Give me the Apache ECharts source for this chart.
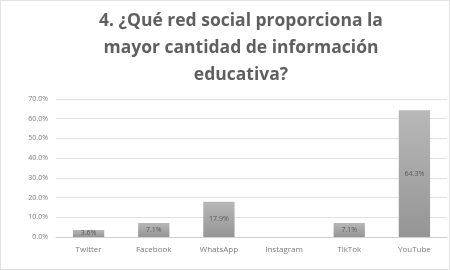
<!DOCTYPE html>
<html>
<head>
<meta charset="utf-8">
<script src="https://cdn.jsdelivr.net/npm/echarts@6/dist/echarts.min.js"></script>
<style>
  html, body { margin: 0; padding: 0; background: #fff; }
  #chart { width: 450px; height: 270px; box-sizing: border-box; border: 1px solid #e3e3e3; }
</style>
</head>
<body>
<div id="chart"></div>
<script>
const categories = ['Twitter', 'Facebook', 'WhatsApp', 'Instagram', 'TikTok', 'YouTube']
const percentages = [3.6, 7.1, 17.9, 0, 7.1, 64.3]
const yTicks = [0, 10, 20, 30, 40, 50, 60, 70]

const chart = echarts.init(document.getElementById('chart'))

chart.setOption({
  animation: false,
  title: {
    text: '4. ¿Qué red social proporciona la\nmayor cantidad de información\neducativa?',
    left: 235,
    top: 2,
    textAlign: 'center',
    textStyle: {
      fontFamily: 'Open Sans',
      fontSize: 17.5,
      fontWeight: 'bold',
      color: '#5f5f5f',
      lineHeight: 27,
    },
  },
  grid: {
    left: 55,
    right: 2,
    top: 98,
    bottom: 32,
  },
  xAxis: {
    type: 'category',
    data: categories,
    axisTick: { show: false },
    axisLine: { lineStyle: { color: '#d0d0d0' } },
    axisLabel: { color: '#7a7a7a', fontSize: 8, fontFamily: 'Open Sans', margin: 9 },
  },
  yAxis: {
    type: 'value',
    min: yTicks[0],
    max: yTicks[yTicks.length - 1],
    interval: 10,
    axisLabel: {
      color: '#7a7a7a',
      fontSize: 7,
      fontFamily: 'Open Sans',
      margin: 8,
      formatter: (v) => v.toFixed(1) + '%',
    },
    splitLine: { lineStyle: { color: '#e0e0e0' } },
  },
  series: [
    {
      type: 'bar',
      data: percentages,
      barWidth: '48%',
      itemStyle: {
        color: new echarts.graphic.LinearGradient(0, 0, 0, 1, [
          { offset: 0, color: '#b8b8b8' },
          { offset: 1, color: '#959595' },
        ]),
      },
      label: {
        show: true,
        position: 'inside',
        color: '#5a5a5a',
        fontSize: 7,
        fontFamily: 'Open Sans',
        formatter: (p) => (p.value > 0 ? p.value.toFixed(1) + '%' : ''),
      },
    },
  ],
})
</script>
</body>
</html>
